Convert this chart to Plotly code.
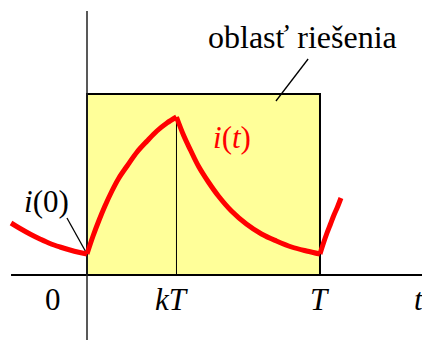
import plotly.graph_objects as go

# period and switching instant (in units of T)
T = 1.0
k = 0.384

# current i(t) (arbitrary units)
tail_t = [-0.326, -0.287, -0.245, -0.202, -0.159, -0.116, -0.073, -0.036, 0.0]
tail_i = [5.2, 4.65, 4.1, 3.6, 3.15, 2.8, 2.5, 2.28, 2.1]

rise_t = [0.0, 0.026, 0.052, 0.077, 0.107, 0.137, 0.172, 0.215, 0.258, 0.300, 0.343, k]
rise_i = [2.1, 3.9, 5.5, 6.9, 8.4, 9.7, 10.9, 12.3, 13.4, 14.4, 15.2, 15.8]

decay_t = [k, 0.414, 0.444, 0.478, 0.521, 0.564, 0.620, 0.684, 0.749, 0.813, 0.878, 0.942, T]
decay_i = [15.8, 14.0, 12.5, 10.9, 9.3, 7.9, 6.4, 5.1, 4.1, 3.4, 2.8, 2.4, 2.1]

next_t = [T, 1.015, 1.03, 1.045, 1.06, 1.075, 1.09]
next_i = [2.1, 3.2, 4.2, 5.1, 6.0, 6.8, 7.7]

region_top = 18.1      # height of the solution-region box
axis_top = 26.4        # top of the vertical axis
x_range = [-0.3734, 1.4378]
y_range = [-6.5, 27.5]

SERIF = "Liberation Serif"
RED = "#ff0000"

fig = go.Figure()

for xs, ys in [(tail_t, tail_i), (rise_t, rise_i), (decay_t, decay_i), (next_t, next_i)]:
    fig.add_trace(go.Scatter(
        x=xs, y=ys, mode="lines",
        line=dict(color=RED, width=5, shape="spline", smoothing=1),
        hoverinfo="skip", showlegend=False,
    ))

peak_i = rise_i[-1]
i0 = rise_i[0]

# solution region
fig.add_shape(type="rect", x0=0, x1=T, y0=0, y1=region_top, layer="below",
              fillcolor="#ffff99", line=dict(color="black", width=2))
# time axis
fig.add_shape(type="line", x0=tail_t[0], x1=x_range[1] + 0.05, y0=0, y1=0, layer="below",
              line=dict(color="black", width=2))
# current axis
fig.add_shape(type="line", x0=0, x1=0, y0=y_range[0] - 1, y1=axis_top, layer="below",
              line=dict(color="#222222", width=1.5))
# kT marker
fig.add_shape(type="line", x0=k, x1=k, y0=0, y1=peak_i, layer="below",
              line=dict(color="black", width=1))
# pointer to the region box
fig.add_shape(type="line", x0=0.949, x1=0.811, y0=21.6, y1=17.4, layer="below",
              line=dict(color="black", width=1.3))
# pointer to i(0)
fig.add_shape(type="line", x0=-0.086, x1=0.0, y0=5.7, y1=i0, layer="below",
              line=dict(color="black", width=1.3))

labels = [
    ("oblasť riešenia", 0.927, 23.8, "black", 32),
    ("<i>i</i>(<i>t</i>)", 0.622, 13.8, RED, 31),
    ("<i>i</i>(0)", -0.172, 7.4, "black", 31),
    ("0", -0.144, -2.4, "black", 31),
    ("<i>kT</i>", k - 0.02, -2.4, "black", 31),
    ("<i>T</i>", T, -2.4, "black", 31),
    ("<i>t</i>", 1.425, -2.4, "black", 31),
]
for text, x, y, color, size in labels:
    fig.add_annotation(text=text, x=x, y=y, xref="x", yref="y", showarrow=False,
                       xanchor="center", yanchor="middle",
                       font=dict(family=SERIF, size=size, color=color))

fig.update_layout(
    template="none",
    width=422, height=340,
    margin=dict(l=0, r=0, t=0, b=0),
    paper_bgcolor="white", plot_bgcolor="white",
    font=dict(family=SERIF, size=30),
    xaxis=dict(range=x_range, visible=False, fixedrange=True),
    yaxis=dict(range=y_range, visible=False, fixedrange=True),
    showlegend=False,
)

fig.write_html("out.html")
